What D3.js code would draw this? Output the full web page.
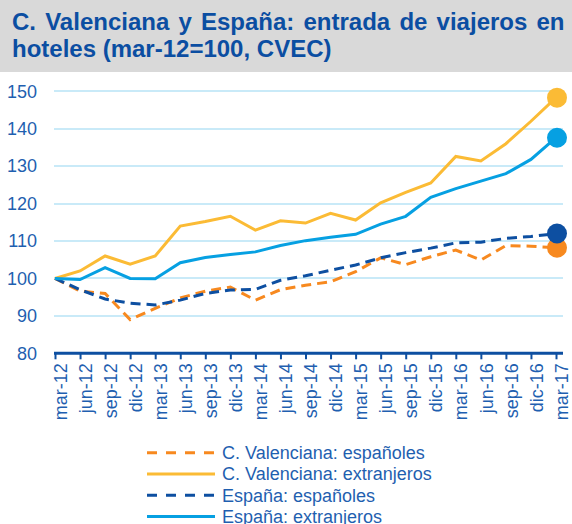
<!DOCTYPE html>
<html lang="es">

<head>
  <meta charset="utf-8">
  <title>C. Valenciana y España: entrada de viajeros en hoteles</title>
  <script src="https://d3js.org/d3.v7.min.js"></script>

  <style>

    body {
      margin: 0;
      font-family: 'Liberation Sans', Arial, sans-serif;
      background: #fff;
    }

    .title {
      fill: #0b4ea2;
      font-size: 24px;
      font-weight: bold;
    }

    .yAxis text, .xAxis text, .legend text {
      fill: #1f5fb0;
      font-size: 18px;
    }

    .grid line {
      stroke: #c9eaf8;
      stroke-width: 1.5px;
      shape-rendering: crispEdges;
    }

  </style>

</head>

<body>

  <div id="chart"></div>

  <script type="text/javascript">

    var months = ['mar-12', 'jun-12', 'sep-12', 'dic-12', 'mar-13', 'jun-13', 'sep-13', 'dic-13',
                  'mar-14', 'jun-14', 'sep-14', 'dic-14', 'mar-15', 'jun-15', 'sep-15', 'dic-15',
                  'mar-16', 'jun-16', 'sep-16', 'dic-16', 'mar-17'];

    var cvEspanoles = [100, 96.6, 96.0, 89.0, 92.0, 94.8, 96.6, 97.7, 94.2, 97.0, 98.2,
                       99.1, 101.8, 105.5, 103.7, 105.8, 107.6, 104.9, 108.8, 108.6, 108.2];
    var cvExtranjeros = [100, 102.0, 106.0, 103.8, 106.0, 114.0, 115.2, 116.6, 112.9, 115.4, 114.8,
                         117.4, 115.6, 120.2, 123.0, 125.5, 132.6, 131.4, 136.0, 142.0, 148.3];
    var esEspanoles = [100, 97.0, 94.5, 93.4, 92.9, 94.2, 96.0, 96.9, 97.1, 99.5, 100.7,
                       102.2, 103.6, 105.5, 106.9, 108.1, 109.5, 109.7, 110.7, 111.2, 112.0];
    var esExtranjeros = [100, 99.7, 102.9, 100.0, 99.9, 104.2, 105.6, 106.4, 107.1, 108.8, 110.1,
                         111.0, 111.8, 114.5, 116.6, 121.7, 124.0, 126.0, 128.0, 131.8, 137.6];

    var yTicks = [80, 90, 100, 110, 120, 130, 140, 150];

    var seriesNames = ['C. Valenciana: españoles', 'C. Valenciana: extranjeros',
                       'España: españoles', 'España: extranjeros'];

    var W = 572, H = 524;

    var series = [
      { name: seriesNames[0], values: cvEspanoles, color: '#f7891f', dashed: true },
      { name: seriesNames[1], values: cvExtranjeros, color: '#fbbb35', dashed: false },
      { name: seriesNames[2], values: esEspanoles, color: '#0d4fa1', dashed: true },
      { name: seriesNames[3], values: esExtranjeros, color: '#06a0e2', dashed: false }
    ];

    var svg = d3.select('#chart')
                .append('svg')
                .attr('width', W)
                .attr('height', H);

    // title band
    svg.append('rect')
       .attr('x', 0)
       .attr('y', 0)
       .attr('width', W)
       .attr('height', 72)
       .attr('fill', '#d9d9d9');

    var t1 = svg.append('text')
                .attr('class', 'title')
                .attr('x', 12)
                .attr('y', 30)
                .text('C. Valenciana y España: entrada de viajeros en');

    // stretch the first line like a justified paragraph
    var natural = t1.node().getComputedTextLength();
    var spaces = 6;
    if (natural < 550) {
      t1.attr('word-spacing', ((562 - 12 - natural) / spaces) + 'px');
    } else {
      t1.attr('textLength', 550).attr('lengthAdjust', 'spacingAndGlyphs');
    }

    svg.append('text')
       .attr('class', 'title')
       .attr('x', 12)
       .attr('y', 57)
       .text('hoteles (mar-12=100, CVEC)');

    var xScale = d3.scalePoint()
                   .domain(months)
                   .range([55, 556]);

    var yScale = d3.scaleLinear()
                   .domain([80, 150])
                   .range([353.3, 91.3]);

    // gridlines
    svg.append('g')
       .attr('class', 'grid')
       .selectAll('line')
       .data(yTicks.filter(function(d) { return d > 80; }))
       .enter()
       .append('line')
       .attr('x1', 54)
       .attr('x2', 563)
       .attr('y1', function(d) { return Math.round(yScale(d)); })
       .attr('y2', function(d) { return Math.round(yScale(d)); });

    // y labels
    var yAxis = d3.axisLeft(yScale)
                  .tickValues(yTicks)
                  .tickSize(0)
                  .tickPadding(0);

    svg.append('g')
       .attr('class', 'yAxis')
       .attr('transform', 'translate(37,0)')
       .call(yAxis)
       .call(function(g) { g.select('.domain').remove(); })
       .selectAll('text')
       .attr('font-family', null)
       .attr('font-size', null);

    // x axis
    var xAxis = d3.axisBottom(xScale)
                  .tickSize(6)
                  .tickSizeOuter(0)
                  .tickPadding(0);

    var gx = svg.append('g')
                .attr('class', 'xAxis')
                .attr('transform', 'translate(0,' + yScale(80) + ')')
                .call(xAxis);

    gx.select('.domain')
      .attr('d', 'M54,0H563')
      .attr('stroke', '#0d4fa1')
      .attr('stroke-width', 3);

    gx.selectAll('.tick line')
      .attr('stroke', '#0d4fa1')
      .attr('stroke-width', 2);

    gx.selectAll('.tick text')
      .attr('font-family', null)
      .attr('font-size', null)
      .attr('text-anchor', 'end')
      .attr('transform', 'translate(0,10) rotate(-90)')
      .attr('x', 0)
      .attr('y', 0)
      .attr('dy', '0.62em');

    // lines
    var line = d3.line()
                 .x(function(d, i) { return xScale(months[i]); })
                 .y(function(d) { return yScale(d); });

    svg.selectAll('.serie')
       .data(series)
       .enter()
       .append('path')
       .attr('class', 'serie')
       .attr('d', function(d) { return line(d.values); })
       .attr('fill', 'none')
       .attr('stroke', function(d) { return d.color; })
       .attr('stroke-width', 3)
       .attr('stroke-dasharray', function(d) { return d.dashed ? '10,6' : null; });

    // end markers
    var last = months.length - 1;

    svg.selectAll('.marker')
       .data(series)
       .enter()
       .append('circle')
       .attr('class', 'marker')
       .attr('cx', xScale(months[last]) + 1)
       .attr('cy', function(d) { return yScale(d.values[last]); })
       .attr('r', 10)
       .attr('fill', function(d) { return d.color; });

    // legend
    var legend = svg.append('g')
                    .attr('class', 'legend')
                    .selectAll('g')
                    .data(series)
                    .enter()
                    .append('g')
                    .attr('transform', function(d, i) { return 'translate(0,' + (452.7 + i * 21.3) + ')'; });

    legend.append('line')
          .attr('x1', 147)
          .attr('x2', 215)
          .attr('y1', 0)
          .attr('y2', 0)
          .attr('stroke', function(d) { return d.color; })
          .attr('stroke-width', 3)
          .attr('stroke-dasharray', function(d) { return d.dashed ? '10,9' : null; });

    legend.append('text')
          .attr('x', 222)
          .attr('y', 0)
          .attr('dy', '0.35em')
          .text(function(d) { return d.name; });

  </script>
</body>

</html>
